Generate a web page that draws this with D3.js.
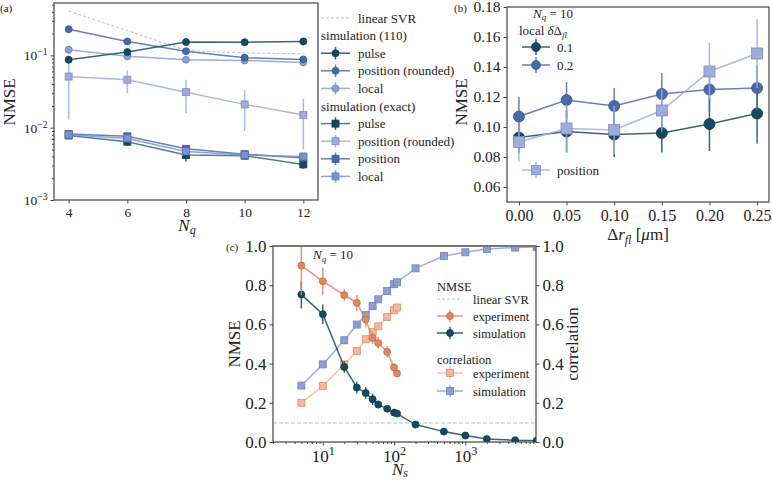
<!DOCTYPE html>
<html>
<head>
<meta charset="utf-8">
<script src="https://cdn.jsdelivr.net/npm/d3@7"></script>
<style>
body { margin: 0; background: #fff; }
svg text { font-family: "Liberation Serif", "DejaVu Serif", serif; fill: #222; }
</style>
</head>
<body>
<svg id="fig" width="772" height="481"></svg>
<script>
// ---- panel (a): NMSE vs N_q ----
const nq = [4, 6, 8, 10, 12];
const svrA = [0.41, 0.22, 0.117, 0.108, 0.105];
const p110Pulse = [0.087, 0.111, 0.153, 0.152, 0.156];
const p110PulseErr = [0.008, 0.008, 0.01, 0.006, 0.006];
const p110PosRnd = [0.23, 0.156, 0.114, 0.093, 0.088];
const p110PosRndErr = [0.015, 0.008, 0.008, 0.006, 0.008];
const p110Local = [0.12, 0.097, 0.087, 0.085, 0.08];
const p110LocalErr = [0.015, 0.01, 0.008, 0.008, 0.008];
const exPulse = [0.0078, 0.0064, 0.0042, 0.0041, 0.0031];
const exPulseErr = [0.0008, 0.0008, 0.0008, 0.0004, 0.0004];
const exPosRnd = [0.051, 0.046, 0.031, 0.021, 0.015];
const exPosRndErr = [0.038, 0.016, 0.015, 0.012, 0.010];
const exPos = [0.0082, 0.0076, 0.0051, 0.0043, 0.0038];
const exPosErr = [0.0006, 0.0006, 0.0004, 0.0003, 0.0003];
const exLocal = [0.008, 0.0071, 0.0047, 0.0042, 0.004];
const exLocalErr = [0.0006, 0.0006, 0.0004, 0.0003, 0.0003];

// ---- panel (b): NMSE vs delta r_fl ----
const dr = [0, 0.05, 0.1, 0.15, 0.2, 0.25];
const local01 = [0.093, 0.097, 0.095, 0.096, 0.102, 0.109];
const local01Err = [0.01, 0.014, 0.015, 0.013, 0.018, 0.02];
const local02 = [0.107, 0.118, 0.114, 0.122, 0.125, 0.126];
const local02Err = [0.013, 0.012, 0.012, 0.014, 0.015, 0.015];
const posB = [0.090, 0.099, 0.098, 0.111, 0.137, 0.149];
const posBErr = [0.013, 0.016, 0.016, 0.014, 0.019, 0.023];

// ---- panel (c): NMSE / correlation vs N_s ----
const nsExp = [5, 10, 20, 30, 40, 50, 60, 80, 100, 110];
const nmseExp = [0.90, 0.82, 0.75, 0.71, 0.625, 0.53, 0.505, 0.46, 0.38, 0.35];
const nmseExpErr = [0.15, 0.07, 0.03, 0.04, 0.04, 0.03, 0.03, 0.03, 0.02, 0.01];
const corrExp = [0.2, 0.286, 0.396, 0.464, 0.524, 0.561, 0.59, 0.638, 0.672, 0.686];
const nsSim = [5, 10, 20, 30, 40, 50, 60, 80, 100, 110, 200, 500, 1000, 2000, 5000, 10000];
const nmseSim = [0.752, 0.652, 0.383, 0.278, 0.25, 0.218, 0.191, 0.17, 0.15, 0.145, 0.089, 0.053, 0.033, 0.015, 0.009, 0.007];
const nmseSimErr = [0.07, 0.05, 0.03, 0.03, 0.03, 0.03, 0.02, 0.015, 0.015, 0.015, 0.008, 0.006, 0.005, 0.004, 0.003, 0.002];
const corrSim = [0.288, 0.396, 0.519, 0.599, 0.648, 0.694, 0.728, 0.77, 0.805, 0.815, 0.886, 0.949, 0.968, 0.985, 0.992, 0.995];
const svrC = 0.097;

const cDark = "#14495f", cMid = "#4a69ab", cLight = "#8b9ed8", cPale = "#9dacdf", cLocEx = "#7e92d2";
const cOrange = "#e2875f", cPeach = "#fbb596", cSvr = "#a9c6c2", cSpine = "#444";

const svg = d3.select("#fig");

function marker(g, xy, o) {
  const edge = o.edge || d3.color(o.color).darker(0.6);
  if (o.shape === "square") {
    g.selectAll("rect").data(xy).join("rect")
      .attr("x", d => d[0] - o.size / 2).attr("y", d => d[1] - o.size / 2)
      .attr("width", o.size).attr("height", o.size)
      .attr("fill", o.color).attr("stroke", edge).attr("stroke-width", 0.8);
  } else {
    g.selectAll("circle").data(xy).join("circle")
      .attr("cx", d => d[0]).attr("cy", d => d[1]).attr("r", o.size / 2)
      .attr("fill", o.color).attr("stroke", edge).attr("stroke-width", 0.8);
  }
}

function series(g, sx, sy, xs, ys, es, o) {
  const pts = xs.map((x, i) => ({ x, y: ys[i], e: es ? es[i] : 0 }));
  const floor = sy.domain()[0] / 10;
  g.append("path").datum(pts)
    .attr("d", d3.line().x(d => sx(d.x)).y(d => sy(d.y)))
    .attr("fill", "none").attr("stroke", o.line || o.color)
    .attr("stroke-width", o.lw || 1.5).attr("stroke-opacity", o.alpha ?? 0.85);
  if (es) {
    g.append("g").selectAll("line").data(pts).join("line")
      .attr("x1", d => sx(d.x)).attr("x2", d => sx(d.x))
      .attr("y1", d => sy(Math.max(d.y - d.e, floor))).attr("y2", d => sy(d.y + d.e))
      .attr("stroke", o.color).attr("stroke-width", o.ew || 1.5).attr("stroke-opacity", o.alpha ?? 0.85);
  }
  marker(g.append("g"), pts.map(d => [sx(d.x), sy(d.y)]), o);
}

function legendHandle(g, x0, x1, y, o) {
  if (o.dash) {
    g.append("line").attr("x1", x0).attr("x2", x1).attr("y1", y).attr("y2", y)
      .attr("stroke", o.color).attr("stroke-width", 1).attr("stroke-dasharray", "3,2");
    return;
  }
  const xm = (x0 + x1) / 2;
  g.append("line").attr("x1", x0).attr("x2", x1).attr("y1", y).attr("y2", y)
    .attr("stroke", o.line || o.color).attr("stroke-width", 1.5).attr("stroke-opacity", 0.85);
  g.append("line").attr("x1", xm).attr("x2", xm).attr("y1", y - o.size * 0.9).attr("y2", y + o.size * 0.9)
    .attr("stroke", o.color).attr("stroke-width", 1.5).attr("stroke-opacity", 0.85);
  marker(g.append("g"), [[xm, y]], o);
}

function box(g, x0, y0, x1, y1) {
  g.append("rect").attr("x", x0).attr("y", y0).attr("width", x1 - x0).attr("height", y1 - y0)
    .attr("fill", "none").attr("stroke", cSpine).attr("stroke-width", 1.2);
}

function styleAxis(g, fs) {
  g.select(".domain").remove();
  g.selectAll(".tick line").attr("stroke", cSpine);
  g.selectAll(".tick text").attr("font-size", fs).attr("fill", "#222")
    .attr("font-family", "'Liberation Serif','DejaVu Serif',serif");
}

function powLabels(g) {
  g.selectAll(".tick text").each(function (d) {
    const t = d3.select(this).text(null);
    const e = Math.round(Math.log10(d));
    t.append("tspan").text("10");
    t.append("tspan").attr("dy", "-0.5em").attr("font-size", "0.72em").text(e < 0 ? "\u2212" + (-e) : e);
  });
}

function logMinors(lo, hi) {
  const out = [];
  for (let k = Math.floor(Math.log10(lo)); k <= Math.ceil(Math.log10(hi)); k++) {
    for (let m = 2; m <= 9; m++) { const v = m * Math.pow(10, k); if (v >= lo && v <= hi) out.push(v); }
  }
  return out;
}

function clip(id, x0, y0, x1, y1) {
  svg.append("clipPath").attr("id", id).append("rect")
    .attr("x", x0).attr("y", y0).attr("width", x1 - x0).attr("height", y1 - y0);
  return svg.append("g").attr("clip-path", `url(#${id})`);
}

// ================= panel (a) =================
const A = { x0: 54, x1: 318, y0: 3, y1: 200 };
const xA = d3.scaleLinear().domain([3.5, 12.5]).range([A.x0, A.x1]);
const yA = d3.scaleLog().domain([1e-3, 0.53]).range([A.y1, A.y0]);

svg.append("g").attr("transform", `translate(0,${A.y1})`)
  .call(d3.axisBottom(xA).tickValues(nq).tickSize(3.5).tickPadding(4).tickFormat(d3.format("d")))
  .call(g => styleAxis(g, 13.5));
svg.append("g").attr("transform", `translate(${A.x0},0)`)
  .call(d3.axisLeft(yA).tickValues([1e-3, 1e-2, 1e-1]).tickSize(3.5).tickPadding(3))
  .call(g => styleAxis(g, 13.5)).call(powLabels);
svg.append("g").attr("transform", `translate(${A.x0},0)`)
  .call(d3.axisLeft(yA).tickValues(logMinors(1e-3, 0.53)).tickSize(2).tickFormat(""))
  .call(g => styleAxis(g, 10));

const gA = clip("clipA", A.x0, A.y0, A.x1, A.y1);
gA.append("path").datum(nq.map((x, i) => [x, svrA[i]]))
  .attr("d", d3.line().x(d => xA(d[0])).y(d => yA(d[1])))
  .attr("fill", "none").attr("stroke", cSvr).attr("stroke-width", 1).attr("stroke-dasharray", "3,2");

const styA = {
  p110Pulse: { color: cDark, shape: "circle", size: 7 },
  p110PosRnd: { color: cMid, shape: "circle", size: 7 },
  p110Local: { color: cLight, shape: "circle", size: 7 },
  exPulse: { color: cDark, line: "#2f6b7c", shape: "square", size: 7 },
  exPosRnd: { color: cPale, shape: "square", size: 7 },
  exPos: { color: cMid, shape: "square", size: 7 },
  exLocal: { color: cLocEx, shape: "square", size: 7 }
};
series(gA, xA, yA, nq, exPosRnd, exPosRndErr, styA.exPosRnd);
series(gA, xA, yA, nq, exPulse, exPulseErr, styA.exPulse);
series(gA, xA, yA, nq, exPos, exPosErr, styA.exPos);
series(gA, xA, yA, nq, exLocal, exLocalErr, styA.exLocal);
series(gA, xA, yA, nq, p110Local, p110LocalErr, styA.p110Local);
series(gA, xA, yA, nq, p110PosRnd, p110PosRndErr, styA.p110PosRnd);
series(gA, xA, yA, nq, p110Pulse, p110PulseErr, styA.p110Pulse);
box(svg, A.x0, A.y0, A.x1, A.y1);

svg.append("text").attr("x", 0).attr("y", 12).attr("font-size", 11).text("(a)");
svg.append("text").attr("transform", "translate(15,102) rotate(-90)").attr("text-anchor", "middle")
  .attr("font-size", 17).text("NMSE");
const nqLab = svg.append("text").attr("x", 187).attr("y", 231).attr("text-anchor", "middle").attr("font-size", 17);
nqLab.append("tspan").attr("font-style", "italic").text("N");
nqLab.append("tspan").attr("font-style", "italic").attr("font-size", 12).attr("dy", 3).text("q");

// legend (a)
const legA = svg.append("g");
const legARows = [
  { label: "linear SVR", o: { dash: true, color: cSvr } },
  { label: "simulation (110)", header: true },
  { label: "pulse", o: styA.p110Pulse },
  { label: "position (rounded)", o: styA.p110PosRnd },
  { label: "local", o: styA.p110Local },
  { label: "simulation (exact)", header: true },
  { label: "pulse", o: styA.exPulse },
  { label: "position (rounded)", o: styA.exPosRnd },
  { label: "position", o: styA.exPos },
  { label: "local", o: styA.exLocal }
];
legARows.forEach((r, i) => {
  const y = 18 + i * 17.6;
  if (r.header) {
    legA.append("text").attr("x", 321).attr("y", y + 4.5).attr("font-size", 13).text(r.label);
  } else {
    legendHandle(legA, 321, 350, y, r.o);
    legA.append("text").attr("x", 358).attr("y", y + 4.5).attr("font-size", 13).text(r.label);
  }
});

// ================= panel (b) =================
const B = { x0: 507, x1: 769, y0: 7, y1: 202 };
const xB = d3.scaleLinear().domain([-0.0125, 0.2625]).range([B.x0, B.x1]);
const yB = d3.scaleLinear().domain([0.05, 0.18]).range([B.y1, B.y0]);

svg.append("g").attr("transform", `translate(0,${B.y1})`)
  .call(d3.axisBottom(xB).tickValues(dr).tickSize(3.5).tickPadding(4).tickFormat(d3.format(".2f")))
  .call(g => styleAxis(g, 16));
svg.append("g").attr("transform", `translate(${B.x0},0)`)
  .call(d3.axisLeft(yB).tickValues([0.06, 0.08, 0.10, 0.12, 0.14, 0.16, 0.18]).tickSize(3.5).tickPadding(3).tickFormat(d3.format(".2f")))
  .call(g => styleAxis(g, 15.5));

const gB = clip("clipB", B.x0, B.y0, B.x1, B.y1);
const styB = {
  l01: { color: cDark, shape: "circle", size: 11 },
  l02: { color: cMid, shape: "circle", size: 11 },
  pos: { color: cPale, line: cPale, shape: "square", size: 11 }
};
series(gB, xB, yB, dr, local01, local01Err, styB.l01);
series(gB, xB, yB, dr, local02, local02Err, styB.l02);
series(gB, xB, yB, dr, posB, posBErr, styB.pos);
box(svg, B.x0, B.y0, B.x1, B.y1);

svg.append("text").attr("x", 454).attr("y", 12).attr("font-size", 11).text("(b)");
svg.append("text").attr("transform", "translate(467,102) rotate(-90)").attr("text-anchor", "middle")
  .attr("font-size", 17).text("NMSE");
const drLab = svg.append("text").attr("x", 638).attr("y", 240).attr("text-anchor", "middle").attr("font-size", 17);
drLab.append("tspan").text("\u0394");
drLab.append("tspan").attr("font-style", "italic").text("r");
drLab.append("tspan").attr("font-style", "italic").attr("font-size", 12).attr("dy", 4).text("fl");
drLab.append("tspan").attr("dy", -4).text(" [");
drLab.append("tspan").attr("font-style", "italic").text("\u03bc");
drLab.append("tspan").text("m]");

const legB = svg.append("g");
const nqB = legB.append("text").attr("x", 553).attr("y", 18).attr("text-anchor", "middle").attr("font-size", 13);
nqB.append("tspan").attr("font-style", "italic").text("N");
nqB.append("tspan").attr("font-style", "italic").attr("font-size", 9).attr("dy", 2).text("q");
nqB.append("tspan").attr("dy", -2).text(" = 10");
const locB = legB.append("text").attr("x", 519).attr("y", 35).attr("font-size", 13);
locB.append("tspan").text("local ");
locB.append("tspan").attr("font-style", "italic").text("\u03b4");
locB.append("tspan").text("\u0394");
locB.append("tspan").attr("font-style", "italic").attr("font-size", 9).attr("dy", 3).text("fl");
[[47, "0.1", styB.l01], [65, "0.2", styB.l02], [170, "position", styB.pos]].forEach(([y, lab, o]) => {
  legendHandle(legB, 522, 550, y, { ...o, size: 9 });
  legB.append("text").attr("x", 557).attr("y", y + 4.5).attr("font-size", 13).text(lab);
});

// ================= panel (c) =================
const C = { x0: 273, x1: 536, y0: 246, y1: 442 };
const xC = d3.scaleLog().domain([2, 9800]).range([C.x0, C.x1]);
const yC = d3.scaleLinear().domain([0, 1]).range([C.y1, C.y0]);
const ticksC = [0, 0.2, 0.4, 0.6, 0.8, 1.0];

svg.append("g").attr("transform", `translate(0,${C.y1})`)
  .call(d3.axisBottom(xC).tickValues([10, 100, 1000]).tickSize(3.5).tickPadding(4))
  .call(g => styleAxis(g, 17)).call(powLabels);
svg.append("g").attr("transform", `translate(0,${C.y1})`)
  .call(d3.axisBottom(xC).tickValues(logMinors(2, 9800)).tickSize(2).tickFormat(""))
  .call(g => styleAxis(g, 10));
svg.append("g").attr("transform", `translate(${C.x0},0)`)
  .call(d3.axisLeft(yC).tickValues(ticksC).tickSize(3.5).tickPadding(3).tickFormat(d3.format(".1f")))
  .call(g => styleAxis(g, 17));
svg.append("g").attr("transform", `translate(${C.x1},0)`)
  .call(d3.axisRight(yC).tickValues(ticksC).tickSize(3.5).tickPadding(3).tickFormat(d3.format(".1f")))
  .call(g => styleAxis(g, 17));

const gC = clip("clipC", C.x0, C.y0, C.x1, C.y1);
gC.append("line").attr("x1", C.x0).attr("x2", C.x1).attr("y1", yC(svrC)).attr("y2", yC(svrC))
  .attr("stroke", cSvr).attr("stroke-width", 1).attr("stroke-dasharray", "4,2");
const styC = {
  nExp: { color: cOrange, shape: "circle", size: 7 },
  nSim: { color: cDark, shape: "circle", size: 7 },
  cExp: { color: cPeach, shape: "square", size: 7 },
  cSim: { color: cLight, shape: "square", size: 7 }
};
series(gC, xC, yC, nsSim, corrSim, null, styC.cSim);
series(gC, xC, yC, nsExp, corrExp, null, styC.cExp);
series(gC, xC, yC, nsSim, nmseSim, nmseSimErr, styC.nSim);
series(gC, xC, yC, nsExp, nmseExp, nmseExpErr, styC.nExp);
box(svg, C.x0, C.y0, C.x1, C.y1);
svg.append("line").attr("x1", C.x0).attr("x2", C.x1).attr("y1", C.y0).attr("y2", C.y0)
  .attr("stroke", "#777").attr("stroke-width", 2);

svg.append("text").attr("x", 226).attr("y", 251).attr("font-size", 11).text("(c)");
svg.append("text").attr("transform", "translate(240,344) rotate(-90)").attr("text-anchor", "middle")
  .attr("font-size", 17).text("NMSE");
svg.append("text").attr("transform", "translate(578,344) rotate(-90)").attr("text-anchor", "middle")
  .attr("font-size", 17).text("correlation");
const nsLab = svg.append("text").attr("x", 400).attr("y", 475).attr("text-anchor", "middle").attr("font-size", 17);
nsLab.append("tspan").attr("font-style", "italic").text("N");
nsLab.append("tspan").attr("font-style", "italic").attr("font-size", 12).attr("dy", 2).text("s");
const nqC = svg.append("text").attr("x", 313).attr("y", 259).attr("font-size", 13);
nqC.append("tspan").attr("font-style", "italic").text("N");
nqC.append("tspan").attr("font-style", "italic").attr("font-size", 9).attr("dy", 3).text("q");
nqC.append("tspan").attr("dy", -3).text(" = 10");

const legC = svg.append("g");
const legCRows = [
  [286, "NMSE", null], [299, "linear SVR", { dash: true, color: cSvr }],
  [316, "experiment", styC.nExp], [333, "simulation", styC.nSim],
  [359, "correlation", null], [373, "experiment", styC.cExp], [391, "simulation", styC.cSim]
];
legCRows.forEach(([y, lab, o]) => {
  if (!o) { legC.append("text").attr("x", 437).attr("y", y + 4.5).attr("font-size", 12.5).text(lab); return; }
  legendHandle(legC, 437, 463, y, o);
  legC.append("text").attr("x", 473).attr("y", y + 4.5).attr("font-size", 12.5).text(lab);
});
</script>
</body>
</html>
